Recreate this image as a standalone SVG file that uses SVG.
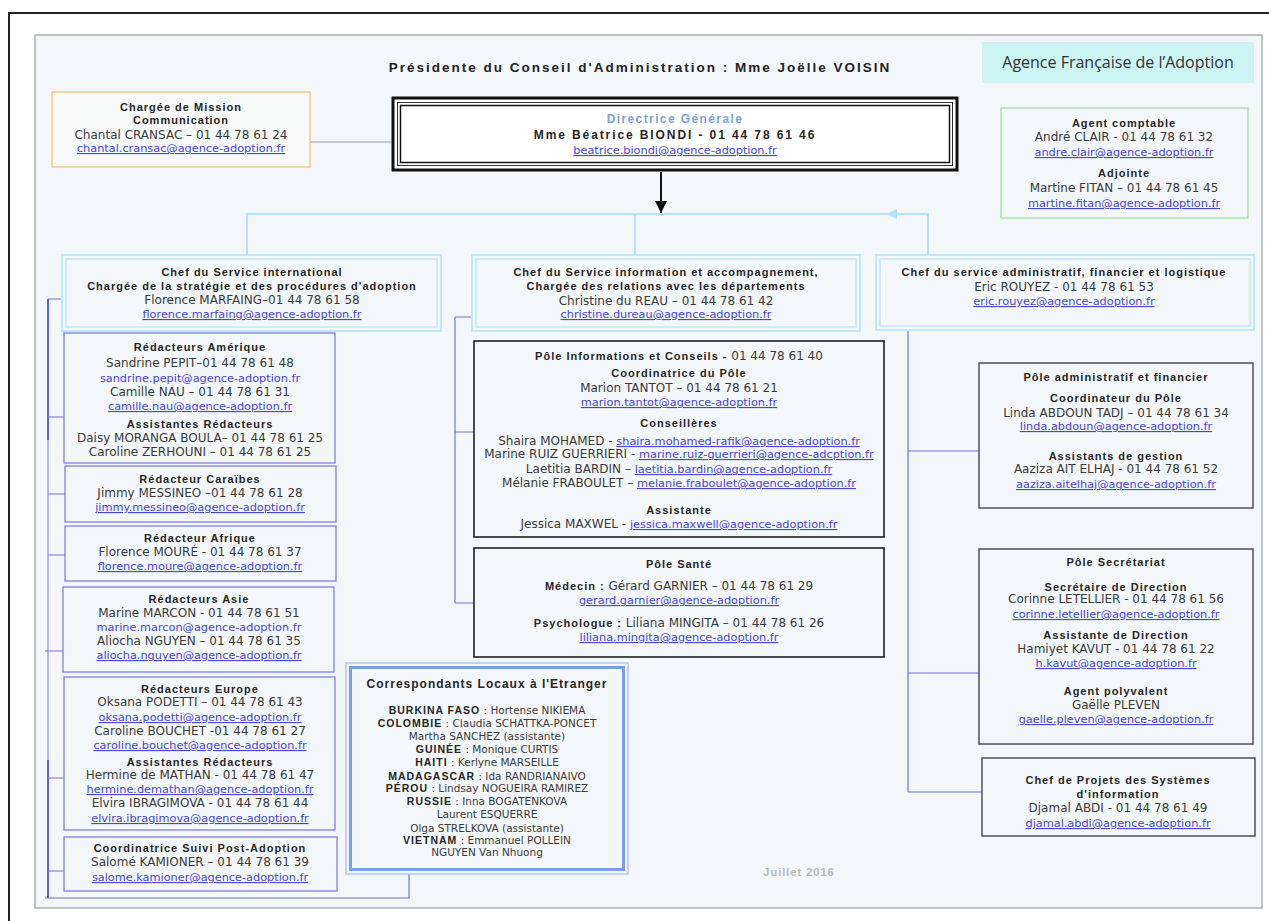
<svg xmlns="http://www.w3.org/2000/svg" width="1269" height="921" viewBox="0 0 1269 921">
<defs>
<style>
.n{font-family:"DejaVu Sans",Verdana,sans-serif;font-size:12px;fill:#3a3a3a;text-anchor:middle}
.s{font-family:"DejaVu Sans",Verdana,sans-serif;font-size:10.5px;fill:#3a3a3a;text-anchor:middle}
.e{font-family:"DejaVu Sans",Verdana,sans-serif;font-size:11.3px;fill:#4646d6;text-anchor:middle;text-decoration:underline}
.eu{font-family:"DejaVu Sans",Verdana,sans-serif;font-size:11.3px;fill:#4646d6;text-anchor:middle}
.te{font-size:11.3px;fill:#4646d6;text-decoration:underline}
.h{font-family:"Liberation Sans",Arial,sans-serif;font-size:11px;font-weight:bold;letter-spacing:1px;fill:#262626;text-anchor:middle}
.tb{font-family:"Liberation Sans",Arial,sans-serif;font-weight:bold;letter-spacing:1px;fill:#262626}
.box{fill:#f4f7f9;stroke:#8080dc;stroke-width:1.3}
.chef{fill:#f4f7f9;stroke:#bfe8f6;stroke-width:2}
.chefi{fill:none;stroke:#bfe8f6;stroke-width:1.5}
.pole{fill:#f4f7f9;stroke:#1e1e1e;stroke-width:1.6}
.poler{fill:#f4f7f9;stroke:#505050;stroke-width:1.5}
.con{fill:none;stroke:#7070dc;stroke-width:1.2}
.lb{fill:none;stroke:#b5e3f4;stroke-width:2}
</style>
<marker id="ah" viewBox="0 0 10 10" refX="10" refY="5" markerWidth="6" markerHeight="6" orient="auto"><path d="M0,0 L10,5 L0,10 z" fill="#111"/></marker>
</defs>

<path d="M9,921 V13 H1269" fill="none" stroke="#222" stroke-width="2"/>
<rect x="35" y="35" width="1227" height="873" fill="#f4f7f9" stroke="#a9b3b3" stroke-width="1.5"/>

<text x="640" y="72" style="font-family:'Liberation Sans',Arial,sans-serif;font-size:13.5px;font-weight:bold;letter-spacing:2px;fill:#222;text-anchor:middle">Présidente du Conseil d'Administration : Mme Joëlle VOISIN</text>

<g id="agence">
<rect x="982" y="42" width="272" height="41" fill="#ccf4f3"/>
<text x="1118" y="68" style="font-family:'Open Sans',sans-serif;font-size:16px;fill:#333;text-anchor:middle">Agence Française de l’Adoption</text>
</g>

<g id="connectors">
<line x1="310" y1="142" x2="392" y2="142" stroke="#9aa0a0" stroke-width="1.2"/>
<line x1="661" y1="172" x2="661" y2="213" stroke="#111" stroke-width="2" marker-end="url(#ah)"/>
<path class="lb" d="M247,255 V214 H928 V255 M635,214 V255"/>
<polygon points="886,214 897,209 897,219" fill="#b5e3f4"/>
<path d="M48,299 V898" stroke="#8a8ae2" stroke-width="1.2" fill="none"/>
<path d="M48,299 V440 M48,760 V898" stroke="#4d4ddc" stroke-width="1.6" fill="none"/>
<path class="con" d="M48,299 H62 M48,417 H64 M48,494 H65 M48,555 H65 M45,651 H63 M48,778 H64 M48,871 H64 M45,898 H409 V874"/>
<path class="con" d="M455,317 H472 M455,317 V603 M455,432 H474 M455,603 H474"/>
<path class="con" d="M908,328 V792 M908,451 H979 M908,673 H979 M908,792 H982"/>
</g>

<g id="chargee">
<rect x="52" y="92" width="258" height="75" fill="#f7f8f8" stroke="#f3c47c" stroke-width="1.3"/>
<text class="h" x="181" y="111">Chargée de Mission</text>
<text class="h" x="181" y="124">Communication</text>
<text class="n" x="181" y="139">Chantal CRANSAC – 01 44 78 61 24</text>
<text class="e" x="181" y="152">chantal.cransac@agence-adoption.fr</text>
</g>

<g id="directrice">
<rect x="393" y="98" width="564" height="72" fill="#fff" stroke="#111" stroke-width="3"/>
<rect x="397.5" y="102.5" width="555" height="63" fill="none" stroke="#333" stroke-width="1"/>
<rect x="400.5" y="105.5" width="549" height="57" fill="#fff" stroke="#111" stroke-width="1.5"/>
<text class="h" x="675" y="123" style="fill:#7f9fe3;font-size:12px;letter-spacing:1.4px">Directrice Générale</text>
<text class="h" x="675" y="139" style="font-size:12px;letter-spacing:1.9px">Mme Béatrice BIONDI - 01 44 78 61 46</text>
<text class="e" x="675" y="154">beatrice.biondi@agence-adoption.fr</text>
</g>

<g id="comptable">
<rect x="1001" y="108" width="247" height="110" fill="#f4f7f9" stroke="#a8dca8" stroke-width="1.3"/>
<text class="h" x="1124" y="127">Agent comptable</text>
<text class="n" x="1124" y="141">André CLAIR - 01 44 78 61 32</text>
<text class="e" x="1124" y="156">andre.clair@agence-adoption.fr</text>
<text class="h" x="1124" y="177">Adjointe</text>
<text class="n" x="1124" y="192">Martine FITAN – 01 44 78 61 45</text>
<text class="e" x="1124" y="207">martine.fitan@agence-adoption.fr</text>
</g>

<g id="chef-international">
<rect class="chef" x="62" y="255" width="379" height="76"/>
<rect class="chefi" x="66" y="259" width="371" height="68"/>
<text class="h" x="252" y="276">Chef du Service international</text>
<text class="h" x="252" y="290">Chargée de la stratégie et des procédures d'adoption</text>
<text class="n" x="252" y="304">Florence MARFAING–01 44 78 61 58</text>
<text class="e" x="252" y="318">florence.marfaing@agence-adoption.fr</text>
</g>

<g id="chef-information">
<rect class="chef" x="472" y="255" width="388" height="76"/>
<rect class="chefi" x="476" y="259" width="380" height="68"/>
<text class="h" x="666" y="276">Chef du Service information et accompagnement,</text>
<text class="h" x="666" y="290">Chargée des relations avec les départements</text>
<text class="n" x="666" y="305">Christine du REAU – 01 44 78 61 42</text>
<text class="e" x="666" y="318">christine.dureau@agence-adoption.fr</text>
</g>

<g id="chef-administratif">
<rect class="chef" x="876" y="255" width="378" height="75"/>
<rect class="chefi" x="880" y="259" width="370" height="67"/>
<text class="h" x="1064" y="276">Chef du service administratif, financier et logistique</text>
<text class="n" x="1064" y="291">Eric ROUYEZ - 01 44 78 61 53</text>
<text class="e" x="1064" y="305">eric.rouyez@agence-adoption.fr</text>
</g>

<g id="amerique">
<rect class="box" x="64" y="333" width="271" height="130"/>
<text class="h" x="200" y="351">Rédacteurs Amérique</text>
<text class="n" x="200" y="367">Sandrine PEPIT–01 44 78 61 48</text>
<text class="eu" x="200" y="382">sandrine.pepit@agence-adoption.fr</text>
<text class="n" x="200" y="396">Camille NAU – 01 44 78 61 31</text>
<text class="e" x="200" y="410">camille.nau@agence-adoption.fr</text>
<text class="h" x="200" y="428">Assistantes Rédacteurs</text>
<text class="n" x="200" y="442">Daisy MORANGA BOULA– 01 44 78 61 25</text>
<text class="n" x="200" y="456">Caroline ZERHOUNI – 01 44 78 61 25</text>
</g>

<g id="caraibes">
<rect class="box" x="65" y="466" width="271" height="56"/>
<text class="h" x="200" y="483">Rédacteur Caraïbes</text>
<text class="n" x="200" y="497">Jimmy MESSINEO –01 44 78 61 28</text>
<text class="e" x="200" y="511">jimmy.messineo@agence-adoption.fr</text>
</g>

<g id="afrique">
<rect class="box" x="65" y="526" width="271" height="55"/>
<text class="h" x="200" y="542">Rédacteur Afrique</text>
<text class="n" x="200" y="556">Florence MOURÉ - 01 44 78 61 37</text>
<text class="e" x="200" y="570">florence.moure@agence-adoption.fr</text>
</g>

<g id="asie">
<rect class="box" x="63" y="587" width="271" height="85"/>
<text class="h" x="199" y="603">Rédacteurs Asie</text>
<text class="n" x="199" y="617">Marine MARCON - 01 44 78 61 51</text>
<text class="eu" x="199" y="631">marine.marcon@agence-adoption.fr</text>
<text class="n" x="199" y="645">Aliocha NGUYEN – 01 44 78 61 35</text>
<text class="e" x="199" y="659">aliocha.nguyen@agence-adoption.fr</text>
</g>

<g id="europe">
<rect class="box" x="64" y="677" width="271" height="153"/>
<text class="h" x="200" y="693">Rédacteurs Europe</text>
<text class="n" x="200" y="706">Oksana PODETTI – 01 44 78 61 43</text>
<text class="e" x="200" y="721">oksana.podetti@agence-adoption.fr</text>
<text class="n" x="200" y="735">Caroline BOUCHET -01 44 78 61 27</text>
<text class="e" x="200" y="749">caroline.bouchet@agence-adoption.fr</text>
<text class="h" x="200" y="766">Assistantes Rédacteurs</text>
<text class="n" x="200" y="779">Hermine de MATHAN - 01 44 78 61 47</text>
<text class="e" x="200" y="793">hermine.demathan@agence-adoption.fr</text>
<text class="n" x="200" y="807">Elvira IBRAGIMOVA - 01 44 78 61 44</text>
<text class="e" x="200" y="822">elvira.ibragimova@agence-adoption.fr</text>
</g>

<g id="post-adoption">
<rect class="box" x="64" y="837" width="273" height="54"/>
<text class="h" x="200" y="852">Coordinatrice Suivi Post-Adoption</text>
<text class="n" x="200" y="866">Salomé KAMIONER – 01 44 78 61 39</text>
<text class="e" x="200" y="881">salome.kamioner@agence-adoption.fr</text>
</g>

<g id="pole-info">
<rect class="pole" x="474" y="341" width="410" height="196"/>
<text class="n" x="679" y="360"><tspan class="tb" font-size="11px">Pôle Informations et Conseils -</tspan> 01 44 78 61 40</text>
<text class="h" x="679" y="377">Coordinatrice du Pôle</text>
<text class="n" x="679" y="392">Marion TANTOT – 01 44 78 61 21</text>
<text class="e" x="679" y="406">marion.tantot@agence-adoption.fr</text>
<text class="h" x="679" y="427">Conseillères</text>
<text class="n" x="679" y="445">Shaira MOHAMED - <tspan class="te">shaira.mohamed-rafik@agence-adoption.fr</tspan></text>
<text class="n" x="679" y="458">Marine RUIZ GUERRIERI - <tspan class="te">marine.ruiz-guerrieri@agence-adcption.fr</tspan></text>
<text class="n" x="679" y="473">Laetitia BARDIN – <tspan class="te">laetitia.bardin@agence-adoption.fr</tspan></text>
<text class="n" x="679" y="487">Mélanie FRABOULET – <tspan class="te">melanie.fraboulet@agence-adoption.fr</tspan></text>
<text class="h" x="679" y="514">Assistante</text>
<text class="n" x="679" y="528">Jessica MAXWEL - <tspan class="te">jessica.maxwell@agence-adoption.fr</tspan></text>
</g>

<g id="pole-sante">
<rect class="pole" x="474" y="548" width="410" height="109"/>
<text class="h" x="679" y="568">Pôle Santé</text>
<text class="n" x="679" y="590"><tspan class="tb" font-size="11px">Médecin :</tspan> Gérard GARNIER – 01 44 78 61 29</text>
<text class="e" x="679" y="604">gerard.garnier@agence-adoption.fr</text>
<text class="n" x="679" y="627"><tspan class="tb" font-size="11px">Psychologue :</tspan> Liliana MINGITA – 01 44 78 61 26</text>
<text class="e" x="679" y="641">liliana.mingita@agence-adoption.fr</text>
</g>

<g id="correspondants">
<rect x="346" y="663" width="282" height="211" fill="#f4f7f9" stroke="#b3c6f5" stroke-width="1.5"/>
<rect x="350.5" y="667.5" width="273" height="202" fill="none" stroke="#7b9bf0" stroke-width="3"/>
<text class="h" x="487" y="688" style="font-size:12px">Correspondants Locaux à l'Etranger</text>
<text class="s" x="487" y="714"><tspan class="tb">BURKINA FASO</tspan> : Hortense NIKIEMA</text>
<text class="s" x="487" y="727"><tspan class="tb">COLOMBIE</tspan> : Claudia SCHATTKA-PONCET</text>
<text class="s" x="487" y="740">Martha SANCHEZ (assistante)</text>
<text class="s" x="487" y="753"><tspan class="tb">GUINÉE</tspan> : Monique CURTIS</text>
<text class="s" x="487" y="766"><tspan class="tb">HAITI</tspan> : Kerlyne MARSEILLE</text>
<text class="s" x="487" y="780"><tspan class="tb">MADAGASCAR</tspan> : Ida RANDRIANAIVO</text>
<text class="s" x="487" y="792"><tspan class="tb">PÉROU</tspan> : Lindsay NOGUEIRA RAMIREZ</text>
<text class="s" x="487" y="805"><tspan class="tb">RUSSIE</tspan> : Inna BOGATENKOVA</text>
<text class="s" x="487" y="818">Laurent ESQUERRE</text>
<text class="s" x="487" y="832">Olga STRELKOVA (assistante)</text>
<text class="s" x="487" y="844"><tspan class="tb">VIETNAM</tspan> : Emmanuel POLLEIN</text>
<text class="s" x="487" y="856">NGUYEN Van Nhuong</text>
</g>

<g id="pole-admin">
<rect class="poler" x="979" y="363" width="274" height="145"/>
<text class="h" x="1116" y="381">Pôle administratif et financier</text>
<text class="h" x="1116" y="402">Coordinateur du Pôle</text>
<text class="n" x="1116" y="417">Linda ABDOUN TADJ – 01 44 78 61 34</text>
<text class="e" x="1116" y="430">linda.abdoun@agence-adoption.fr</text>
<text class="h" x="1116" y="460">Assistants de gestion</text>
<text class="n" x="1116" y="473">Aaziza AIT ELHAJ - 01 44 78 61 52</text>
<text class="e" x="1116" y="488">aaziza.aitelhaj@agence-adoption.fr</text>
</g>

<g id="pole-secretariat">
<rect class="poler" x="979" y="549" width="274" height="195"/>
<text class="h" x="1116" y="566">Pôle Secrétariat</text>
<text class="h" x="1116" y="591">Secrétaire de Direction</text>
<text class="n" x="1116" y="603">Corinne LETELLIER - 01 44 78 61 56</text>
<text class="e" x="1116" y="618">corinne.letellier@agence-adoption.fr</text>
<text class="h" x="1116" y="639">Assistante de Direction</text>
<text class="n" x="1116" y="653">Hamiyet KAVUT - 01 44 78 61 22</text>
<text class="e" x="1116" y="667">h.kavut@agence-adoption.fr</text>
<text class="h" x="1116" y="695">Agent polyvalent</text>
<text class="n" x="1116" y="709">Gaëlle PLEVEN</text>
<text class="e" x="1116" y="723">gaelle.pleven@agence-adoption.fr</text>
</g>

<g id="chef-projets">
<rect class="poler" x="982" y="758" width="273" height="78"/>
<text class="h" x="1118" y="784">Chef de Projets  des Systèmes</text>
<text class="h" x="1118" y="798">d'information</text>
<text class="n" x="1118" y="812">Djamal ABDI - 01 44 78 61 49</text>
<text class="e" x="1118" y="827">djamal.abdi@agence-adoption.fr</text>
</g>

<text x="799" y="876" style="font-family:'Liberation Sans',Arial,sans-serif;font-size:11px;font-weight:bold;letter-spacing:1px;fill:#b2babd;text-anchor:middle">Juillet 2016</text>
</svg>
